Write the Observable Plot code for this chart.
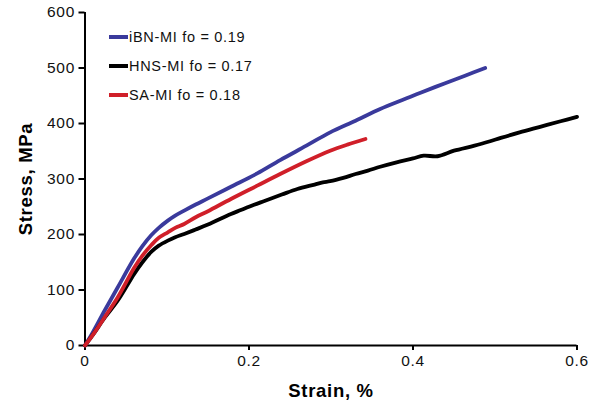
<!DOCTYPE html>
<html>
<head>
<meta charset="utf-8">
<script src="https://cdn.jsdelivr.net/npm/d3@7"></script>
<script src="https://cdn.jsdelivr.net/npm/@observablehq/plot@0.6"></script>
<style>
  html, body { margin: 0; padding: 0; background: #fff; }
  #wrap { position: relative; width: 604px; height: 403px; font-family: "Liberation Sans", Arial, sans-serif; }
  #wrap svg text { letter-spacing: 0.7px; }
  .leg { position: absolute; left: 109px; font-size: 14.5px; letter-spacing: 0.7px; color: #111; display: flex; align-items: center; white-space: nowrap; }
  .leg .sw { display: inline-block; width: 19px; height: 3.6px; margin-right: 1px; }
</style>
</head>
<body>
<div id="wrap"></div>
<script>
const seriesNames = ["iBN-MI fo = 0.19", "HNS-MI fo = 0.17", "SA-MI fo = 0.18"];
const seriesColors = ["#3a3a9c", "#000000", "#d01f29"];

const ibnStrain = [0, 0.01, 0.024, 0.04, 0.06, 0.07, 0.081, 0.09, 0.101, 0.11, 0.121, 0.135, 0.15, 0.178, 0.21, 0.238, 0.27, 0.299, 0.33, 0.36, 0.39, 0.41, 0.44, 0.465, 0.488];
const ibnStress = [0, 25, 63, 105, 157, 179, 199, 212, 225, 234, 243, 254, 265, 286, 310, 334, 360, 384, 405, 426, 444, 456, 473, 487, 500];

const hnsStrain = [0, 0.01, 0.024, 0.04, 0.06, 0.07, 0.081, 0.09, 0.101, 0.11, 0.121, 0.135, 0.15, 0.178, 0.19, 0.2, 0.218, 0.24, 0.259, 0.28, 0.29, 0.299, 0.315, 0.33, 0.345, 0.36, 0.38, 0.4, 0.413, 0.43, 0.45, 0.475, 0.494, 0.507, 0.53, 0.555, 0.58, 0.6];
const hnsStress = [0, 20, 50, 81, 129, 150, 169, 180, 189, 195, 201, 209, 218, 237, 244, 250, 260, 272, 282, 290, 294, 296, 302, 309, 315, 322, 330, 337, 342, 341, 351, 360, 368, 374, 384, 394, 404, 412];

const saStrain = [0, 0.01, 0.024, 0.04, 0.06, 0.07, 0.081, 0.09, 0.101, 0.11, 0.121, 0.135, 0.15, 0.178, 0.21, 0.238, 0.27, 0.299, 0.32, 0.342];
const saStress = [0, 20, 51, 87, 140, 162, 181, 194, 204, 212, 219, 231, 242, 264, 288, 309, 332, 351, 362, 372];

const xTicks = [0, 0.2, 0.4, 0.6];
const xTickLabels = ["0", "0.2", "0.4", "0.6"];
const yTicks = [0, 100, 200, 300, 400, 500, 600];

const strains = [ibnStrain, hnsStrain, saStrain];
const stresses = [ibnStress, hnsStress, saStress];
const data = [];
seriesNames.forEach((name, i) => {
  strains[i].forEach((s, j) => data.push({series: name, strain: s, stress: stresses[i][j]}));
});

const chart = Plot.plot({
  width: 604,
  height: 403,
  marginLeft: 84.5,
  marginRight: 27.5,
  marginTop: 12,
  marginBottom: 58,
  style: {fontFamily: "'Liberation Sans', Arial, sans-serif", fontSize: "15.5px", color: "#111", background: "#fff"},
  x: {domain: [0, 0.6]},
  y: {domain: [0, 600]},
  color: {domain: seriesNames, range: seriesColors},
  marks: [
    Plot.axisX({ticks: xTicks, tickFormat: (d) => xTickLabels[xTicks.indexOf(d)], tickSize: 5, tickPadding: 4, strokeWidth: 2, stroke: "#000", label: null, fontSize: 15.5}),
    Plot.axisY({ticks: yTicks, tickSize: 6, tickPadding: 4, strokeWidth: 2, stroke: "#000", label: null, fontSize: 15.5}),
    Plot.ruleX([0], {stroke: "#000", strokeWidth: 2}),
    Plot.ruleY([0], {stroke: "#000", strokeWidth: 2}),
    Plot.line(data, {x: "strain", y: "stress", z: "series", stroke: "series", strokeWidth: 3.8, curve: "catmull-rom"}),
    Plot.text(["Strain, %"], {frameAnchor: "bottom", lineAnchor: "bottom", textAnchor: "middle", dy: 51, fontWeight: "bold", fontSize: 18.5, fill: "#000"}),
    Plot.text(["Stress, MPa"], {frameAnchor: "left", textAnchor: "middle", lineAnchor: "middle", dx: -59, rotate: -90, fontWeight: "bold", fontSize: 18.5, fill: "#000"})
  ]
});

const wrap = document.getElementById("wrap");
wrap.appendChild(chart);
const legTops = [37, 66, 95];
seriesNames.forEach((name, i) => {
  const d = document.createElement("div");
  d.className = "leg";
  d.style.top = (legTops[i] - 9) + "px";
  d.style.height = "18px";
  d.innerHTML = `<span class="sw" style="background:${seriesColors[i]}"></span><span>${name}</span>`;
  wrap.appendChild(d);
});
</script>
</body>
</html>
